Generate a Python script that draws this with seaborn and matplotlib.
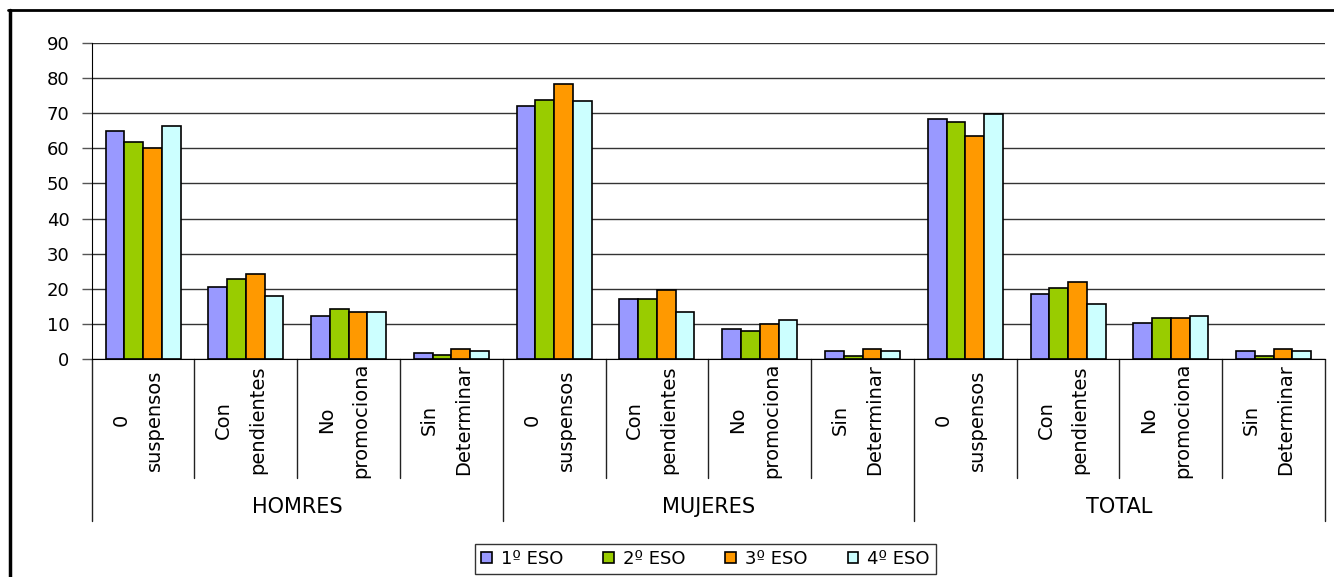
import pandas as pd
import seaborn as sns
import matplotlib.pyplot as plt
from matplotlib.lines import Line2D

# Data
grupos = ["HOMRES", "MUJERES", "TOTAL"]
categorias = ["0\nsuspensos", "Con\npendientes", "No\npromociona", "Sin\nDeterminar"]
series = ["1º ESO", "2º ESO", "3º ESO", "4º ESO"]

eso1 = [65.0, 20.6, 12.2, 1.7, 72.0, 17.0, 8.4, 2.2, 68.5, 18.6, 10.2, 2.2]
eso2 = [61.7, 22.8, 14.3, 1.2, 73.8, 16.9, 8.0, 0.8, 67.6, 20.1, 11.6, 0.8]
eso3 = [60.0, 24.1, 13.3, 2.7, 78.4, 19.7, 9.8, 2.7, 63.6, 21.9, 11.6, 2.7]
eso4 = [66.3, 17.9, 13.3, 2.2, 73.5, 13.3, 11.1, 2.2, 69.8, 15.6, 12.1, 2.2]

colores = ["#9999FF", "#99CC00", "#FF9900", "#CCFFFF"]

# Long format
orden = [f"{g}|{c}" for g in grupos for c in categorias]
rows = []
for serie, vals in zip(series, [eso1, eso2, eso3, eso4]):
    for key, v in zip(orden, vals):
        rows.append({"pos": key, "serie": serie, "valor": v})
df = pd.DataFrame(rows)

sns.set_style("white")
plt.rcParams["font.family"] = ["DejaVu Sans"]
plt.rcParams["text.color"] = "black"
plt.rcParams["ytick.color"] = "black"

fig = plt.figure(figsize=(13.34, 5.77), dpi=100)
ax = fig.add_axes([0.0687, 0.3783, 0.9246, 0.5467])

sns.barplot(data=df, x="pos", y="valor", hue="serie", order=orden,
            hue_order=series, palette=colores, width=0.73, saturation=1,
            edgecolor="black", linewidth=1.2, ax=ax)

ax.set_ylim(0, 90)
ax.set_xlim(-0.5, len(orden) - 0.5)
ax.set_yticks(range(0, 91, 10))
ax.yaxis.grid(True, color="#333333", linewidth=1)
ax.set_axisbelow(True)
ax.tick_params(axis="y", labelsize=13, length=7, width=1, color="#555555",
               labelcolor="black", pad=9, left=True)
ax.set_xticks([])
ax.set_xlabel("")
ax.set_ylabel("")
for s in ["top", "right"]:
    ax.spines[s].set_visible(False)
ax.spines["left"].set_color("black")
ax.spines["bottom"].set_color("black")

# Category labels and dividers below the axis
trans = ax.get_xaxis_transform()
for i, key in enumerate(orden):
    cat = key.split("|")[1]
    ax.text(i - 0.05, -0.194, cat, transform=trans, rotation=90,
            ha="center", va="center", multialignment="center",
            fontsize=14, linespacing=2.0, color="black")
for k in range(len(orden) + 1):
    bottom = -0.514 if k % 4 == 0 else -0.378
    ax.plot([k - 0.5, k - 0.5], [0, bottom], transform=trans, color="#222222",
            linewidth=1, clip_on=False)
for j, g in enumerate(grupos):
    ax.text(j * 4 + 1.5, -0.47, g, transform=trans, ha="center", va="center",
            fontsize=15, color="black")

# Legend at the bottom
handles, labels = ax.get_legend_handles_labels()
ax.legend_.remove()
leg = fig.legend(handles, labels, loc="center", bbox_to_anchor=(0.529, 0.031),
                 ncol=4, frameon=True, fancybox=False, edgecolor="black",
                 fontsize=13, handlelength=0.6, handleheight=0.6,
                 handletextpad=0.5, columnspacing=2.2, borderpad=0.35)
leg.get_frame().set_linewidth(1)
for t in leg.get_texts():
    t.set_color("black")

# Outer border (top and left, as in the reference)
fig.add_artist(Line2D([8 / 1334, 1], [1 - 10 / 577, 1 - 10 / 577],
                      transform=fig.transFigure, color="black", linewidth=2))
fig.add_artist(Line2D([9.5 / 1334, 9.5 / 1334], [0, 1 - 10 / 577],
                      transform=fig.transFigure, color="black", linewidth=2.5))

fig.savefig("out.png", dpi=100)
